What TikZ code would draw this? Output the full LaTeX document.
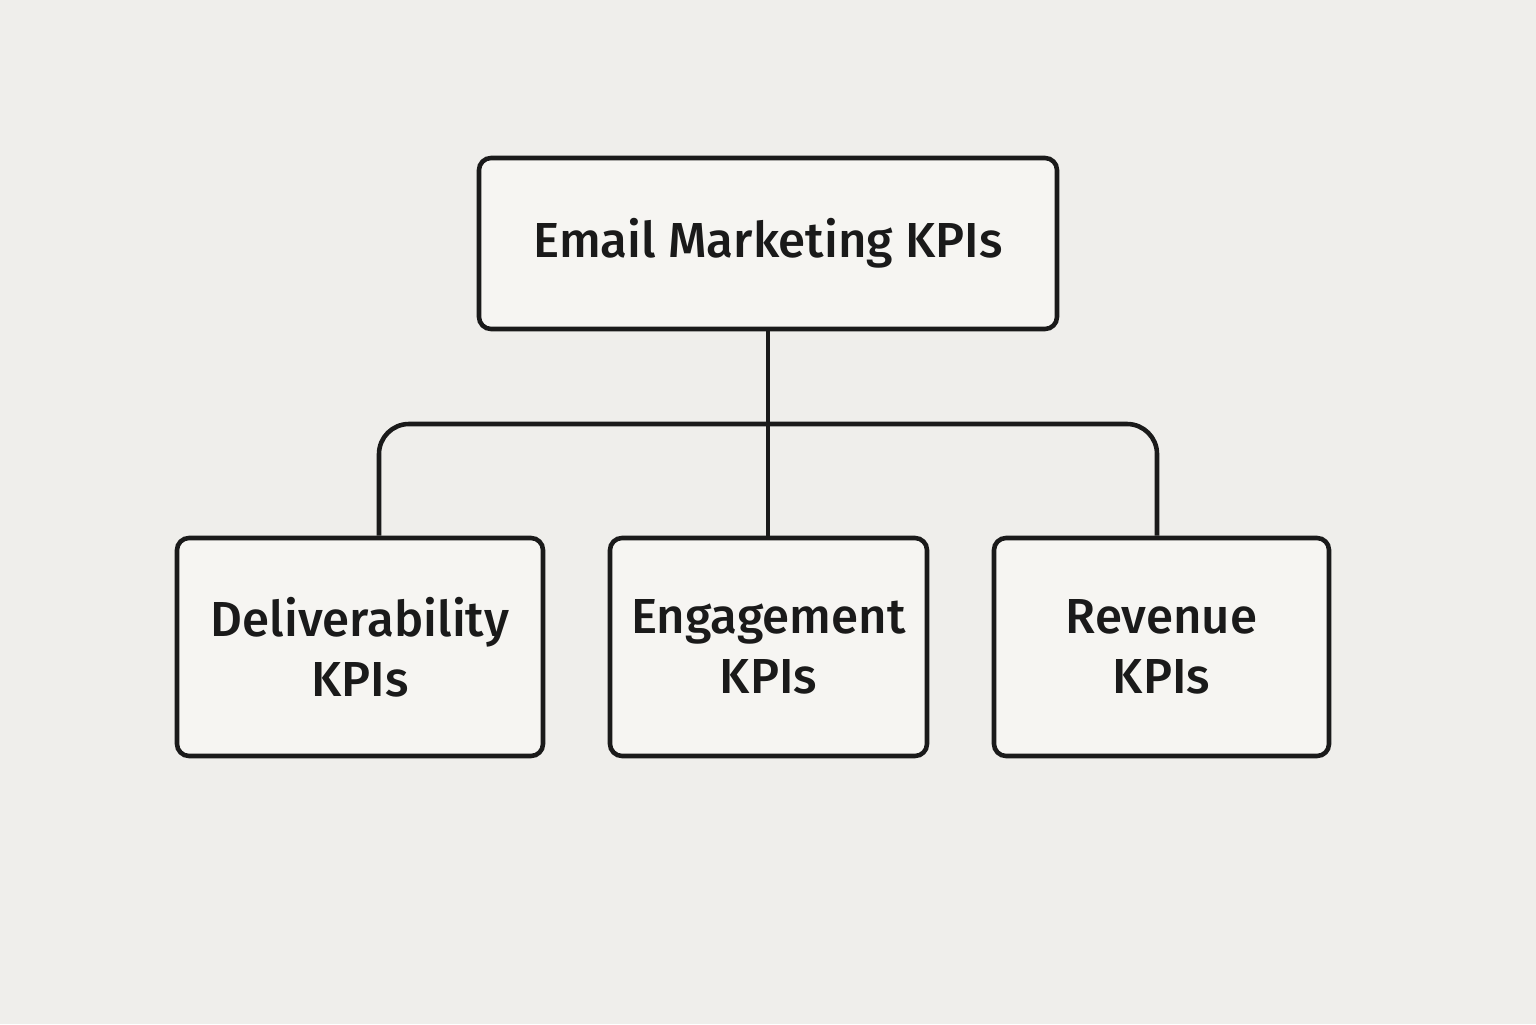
\documentclass[tikz,border=0pt]{standalone}
\usepackage{fontspec}
\setmainfont{Fira Sans}[BoldFont={Fira Sans Medium}]
\definecolor{bg}{HTML}{EFEEEB}
\definecolor{boxfill}{HTML}{F6F5F2}
\definecolor{ink}{HTML}{1A1A1A}
\begin{document}
\begin{tikzpicture}
        [kpibox/.style={draw=ink,line width=1.3pt,fill=boxfill,rounded corners=0.12cm,align=center,
          font=\fontsize{14pt}{17pt}\selectfont\bfseries,text=ink,inner sep=0},
         link/.style={draw=ink,line width=1.3pt}]

        \fill[bg] (0,0) rectangle (15.36,10.24);
        \useasboundingbox (0,0) rectangle (15.36,10.24);

        \node[kpibox,minimum width=5.78cm,minimum height=1.71cm] (top) at (7.68,7.805) {Email Marketing KPIs};
        \node[kpibox,minimum width=3.66cm,minimum height=2.18cm] (del) at (3.60,3.77) {Deliverability\\KPIs};
        \node[kpibox,minimum width=3.17cm,minimum height=2.18cm] (eng) at (7.685,3.77) {Engagement\\KPIs};
        \node[kpibox,minimum width=3.35cm,minimum height=2.18cm] (rev) at (11.615,3.77) {Revenue\\KPIs};

        \coordinate (hub) at (7.68,6.00);
        \coordinate (jl) at (3.79,6.00);
        \coordinate (jr) at (11.57,6.00);

        \draw[link] (top.south) -- (top.south |- eng.north);
        \draw[link,rounded corners=0.3cm] (hub) -- (jl) -- (jl |- del.north);
        \draw[link,rounded corners=0.3cm] (hub) -- (jr) -- (jr |- rev.north);

      \end{tikzpicture}
\end{document}
